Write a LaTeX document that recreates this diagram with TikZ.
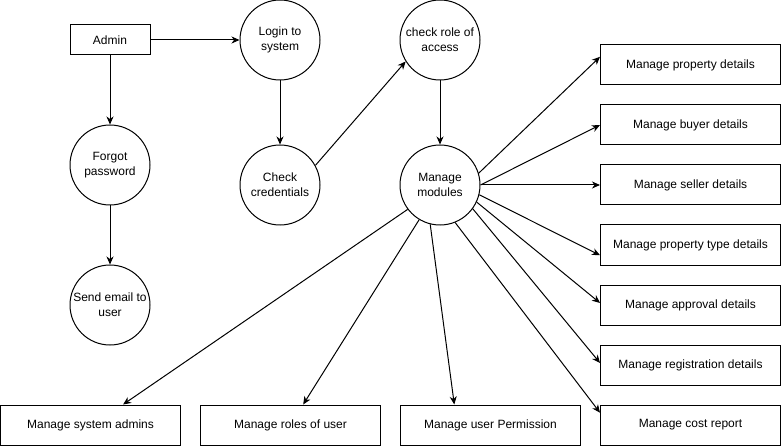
\documentclass[tikz,border=0pt]{standalone}
\usepackage{fontspec}
\setmainfont{Liberation Sans}
\usetikzlibrary{calc,arrows.meta}
\begin{document}
\begin{tikzpicture}[x=1pt,y=-1pt,
  every node/.style={font=\fontsize{12}{15}\selectfont, inner sep=0pt},
  box/.style={draw, line width=1pt, minimum width=180pt, minimum height=40pt},
  proc/.style={draw, circle, line width=1pt, minimum size=80pt, align=center},
  conn/.style={line width=1pt, -{Stealth[length=8pt,width=7pt,inset=2.5pt]}}]
\useasboundingbox (0,0) rectangle (781,446);
% nodes
\node[box, minimum width=80pt, minimum height=30pt] (admin) at (110,40) {Admin};
\node[proc] (login) at (280,40) {Login to\\system};
\node[proc] (role) at (440,40) {check role of\\access};
\node[proc] (forgot) at (110,165) {Forgot\\password};
\node[proc] (email) at (110,305) {Send email to\\user};
\node[proc] (cred) at (280,185) {Check\\credentials};
\node[proc] (mod) at (440,185) {Manage\\modules};
\node[box] (pd) at (690.5,65) {Manage property details};
\node[box] (bd) at (690.5,125) {Manage buyer details};
\node[box] (sd) at (690.5,185) {Manage seller details};
\node[box] (pt) at (690.5,245) {Manage property type details};
\node[box] (ad) at (690.5,305) {Manage approval details};
\node[box] (rd) at (690.5,365) {Manage registration details};
\node[box] (cr) at (690.5,425) {Manage cost report};
\node[box] (sa) at (90.5,425) {Manage system admins};
\node[box] (ru) at (290.5,425) {Manage roles of user};
\node[box] (up) at (490.5,425) {Manage user Permission};
% connectors
\draw[conn] (admin) -- (login);
\draw[conn] (admin) -- (forgot);
\draw[conn] (forgot) -- (email);
\draw[conn] (login) -- (cred);
\draw[conn] (cred.29) -- (role.212);
\draw[conn] (role) -- (mod);
\draw[conn] (mod.17) -- ($(pd.north west)!0.3!(pd.south west)$);
\draw[conn] (mod.0) -- ($(bd.north west)!0.5!(bd.south west)$);
\draw[conn] (mod.0) -- (sd.west);
\draw[conn] (mod.346) -- ($(pt.north west)!0.75!(pt.south west)$);
\draw[conn] (mod.335) -- ($(ad.north west)!0.45!(ad.south west)$);
\draw[conn] (mod.324) -- ($(rd.north west)!0.45!(rd.south west)$);
\draw[conn] (mod.292) -- ($(cr.north west)!0.2!(cr.south west)$);
\draw[conn] (mod.256) -- ($(up.north west)!0.3!(up.north east)$);
\draw[conn] (mod.239) -- ($(ru.north west)!0.57!(ru.north east)$);
\draw[conn] (mod.217) -- ($(sa.north west)!0.68!(sa.north east)$);
\end{tikzpicture}
\end{document}
